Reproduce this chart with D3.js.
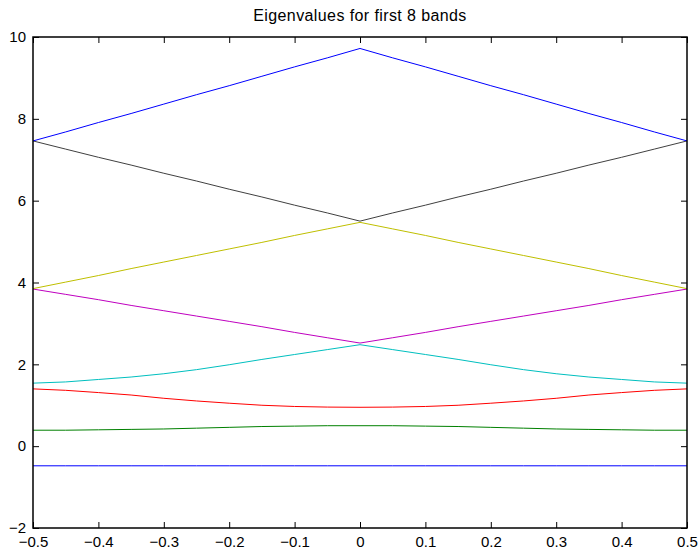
<!DOCTYPE html>
<html>
<head>
<meta charset="utf-8">
<script src="https://cdn.jsdelivr.net/npm/d3@7"></script>
<style>
  body { margin: 0; background: #fff; }
  svg { display: block; font-family: "Liberation Sans", Arial, sans-serif; }
</style>
</head>
<body>
<svg id="chart" width="698" height="552"></svg>
<script>
// wave number samples along the first Brillouin zone
const kValues = [-0.5, -0.45, -0.4, -0.35, -0.3, -0.25, -0.2, -0.15, -0.1, -0.05, 0,
                 0.05, 0.1, 0.15, 0.2, 0.25, 0.3, 0.35, 0.4, 0.45, 0.5];

// eigenvalues, one array per band
const band1 = [-0.48, -0.48, -0.48, -0.48, -0.48, -0.48, -0.48, -0.48, -0.48, -0.48, -0.48,
               -0.48, -0.48, -0.48, -0.48, -0.48, -0.48, -0.48, -0.48, -0.48, -0.48];
const band2 = [0.39, 0.39, 0.40, 0.41, 0.42, 0.44, 0.46, 0.48, 0.49, 0.50, 0.50,
               0.50, 0.49, 0.48, 0.46, 0.44, 0.42, 0.41, 0.40, 0.39, 0.39];
const band3 = [1.40, 1.365, 1.31, 1.25, 1.17, 1.105, 1.05, 1.00, 0.97, 0.955, 0.95,
               0.955, 0.97, 1.00, 1.05, 1.105, 1.17, 1.25, 1.31, 1.365, 1.40];
const band4 = [1.54, 1.57, 1.63, 1.69, 1.77, 1.87, 1.99, 2.12, 2.24, 2.36, 2.48,
               2.36, 2.24, 2.12, 1.99, 1.87, 1.77, 1.69, 1.63, 1.57, 1.54];
const band5 = [3.84, 3.71, 3.58, 3.44, 3.31, 3.18, 3.05, 2.92, 2.78, 2.65, 2.52,
               2.65, 2.78, 2.92, 3.05, 3.18, 3.31, 3.44, 3.58, 3.71, 3.84];
const band6 = [3.85, 4.01, 4.17, 4.34, 4.50, 4.66, 4.82, 4.98, 5.15, 5.31, 5.47,
               5.31, 5.15, 4.98, 4.82, 4.66, 4.50, 4.34, 4.17, 4.01, 3.85];
const band7 = [7.46, 7.26, 7.06, 6.87, 6.67, 6.48, 6.28, 6.09, 5.89, 5.70, 5.50,
               5.70, 5.89, 6.09, 6.28, 6.48, 6.67, 6.87, 7.06, 7.26, 7.46];
const band8 = [7.46, 7.68, 7.91, 8.13, 8.36, 8.59, 8.81, 9.04, 9.27, 9.49, 9.72,
               9.49, 9.27, 9.04, 8.81, 8.59, 8.36, 8.13, 7.91, 7.68, 7.46];

const bands = [band1, band2, band3, band4, band5, band6, band7, band8];
// matlab default line colour order, wrapping back to blue
const bandColors = ['#0000ff', '#008000', '#ff0000', '#00bfbf', '#bf00bf', '#bfbf00', '#404040', '#0000ff'];

const xTicks = [-0.5, -0.4, -0.3, -0.2, -0.1, 0, 0.1, 0.2, 0.3, 0.4, 0.5];
const yTicks = [-2, 0, 2, 4, 6, 8, 10];
const title = 'Eigenvalues for first 8 bands';

const margin = { top: 37, right: 11, bottom: 24, left: 33 };
const svg = d3.select('#chart');
const width = +svg.attr('width') - margin.left - margin.right;
const height = +svg.attr('height') - margin.top - margin.bottom;

const g = svg.append('g').attr('transform', `translate(${margin.left},${margin.top})`);

const x = d3.scaleLinear().domain([-0.5, 0.5]).range([0, width]);
const y = d3.scaleLinear().domain([-2, 10]).range([height, 0]);

const fmt = (d) => (d < 0 ? '\u2212' + Math.abs(d) : String(d));
const tickLen = 6;

// bands
const line = d3.line()
  .x((d, i) => x(kValues[i]))
  .y((d) => y(d));

g.selectAll('path.band')
  .data(bands)
  .join('path')
  .attr('class', 'band')
  .attr('fill', 'none')
  .attr('stroke', (d, i) => bandColors[i])
  .attr('stroke-width', 1)
  .attr('d', line);

// axes: ticks inside on all four sides (box on)
const styleAxis = (sel) => {
  sel.select('.domain').remove();
  sel.selectAll('.tick line').attr('stroke', '#000').attr('stroke-width', 1);
  sel.selectAll('.tick text').attr('fill', '#000').style('font-size', '15px');
};

g.append('g')
  .attr('transform', `translate(0,${height})`)
  .call(d3.axisBottom(x).tickValues(xTicks).tickFormat(fmt).tickSizeInner(-tickLen).tickPadding(8))
  .call(styleAxis);

g.append('g')
  .call(d3.axisTop(x).tickValues(xTicks).tickFormat('').tickSizeInner(-tickLen))
  .call(styleAxis);

g.append('g')
  .call(d3.axisLeft(y).tickValues(yTicks).tickFormat(fmt).tickSizeInner(-tickLen).tickPadding(7))
  .call(styleAxis);

g.append('g')
  .attr('transform', `translate(${width},0)`)
  .call(d3.axisRight(y).tickValues(yTicks).tickFormat('').tickSizeInner(-tickLen))
  .call(styleAxis);

// frame
g.append('rect')
  .attr('width', width)
  .attr('height', height)
  .attr('fill', 'none')
  .attr('stroke', '#000')
  .attr('stroke-width', 1.5);

svg.append('text')
  .attr('x', margin.left + width / 2)
  .attr('y', 21)
  .attr('text-anchor', 'middle')
  .style('font-size', '16px')
  .style('letter-spacing', '0.4px')
  .text(title);
</script>
</body>
</html>
